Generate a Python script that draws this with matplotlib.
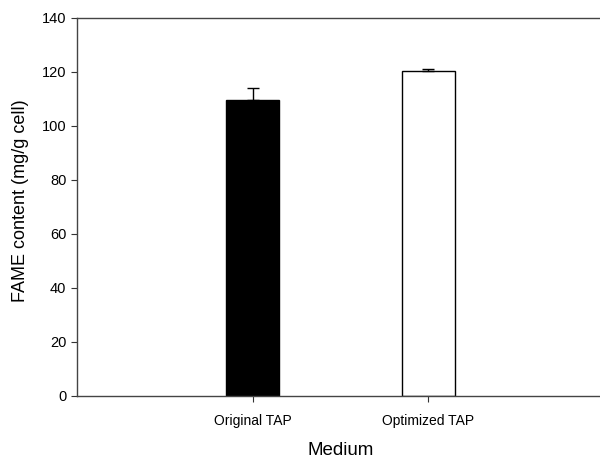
import matplotlib.pyplot as plt
import numpy as np

plt.rcParams['font.family'] = ['Liberation Sans', 'DejaVu Sans']

media = ['Original TAP', 'Optimized TAP']
fame = [109.6, 120.2]
fame_err = [4.4, 0.8]
colors = ['black', 'white']

fig = plt.figure(figsize=(6, 4.58), dpi=100)
ax = fig.add_axes([0.128, 0.1354, 0.879, 0.8253])

x = np.arange(1, len(media) + 1)
ax.bar(x, fame, width=0.3, color=colors, edgecolor='black', linewidth=1, zorder=2)
ax.errorbar(x, fame, yerr=[np.zeros(len(fame)), fame_err], fmt='none',
            ecolor='black', elinewidth=1, capsize=4.5, capthick=1, zorder=3)

ax.set_xlim(0, 3)
ax.set_ylim(0, 140)
ax.set_yticks(np.arange(0, 141, 20))
ax.set_xticks(x)
ax.set_xticklabels(media, fontsize=10)
ax.tick_params(axis='y', labelsize=10.5, length=4, direction='out', color='#333333')
ax.tick_params(axis='x', length=4, direction='out', color='#333333', pad=9)
ax.set_xlabel('Medium', fontsize=13.5, labelpad=10)
ax.set_ylabel('FAME content (mg/g cell)', fontsize=13)
ax.yaxis.set_label_coords(-0.09, 0.516)
for side in ['left', 'bottom', 'top', 'right']:
    ax.spines[side].set_color('#444444')
    ax.spines[side].set_linewidth(1)

fig.savefig('out.png', dpi=100)
